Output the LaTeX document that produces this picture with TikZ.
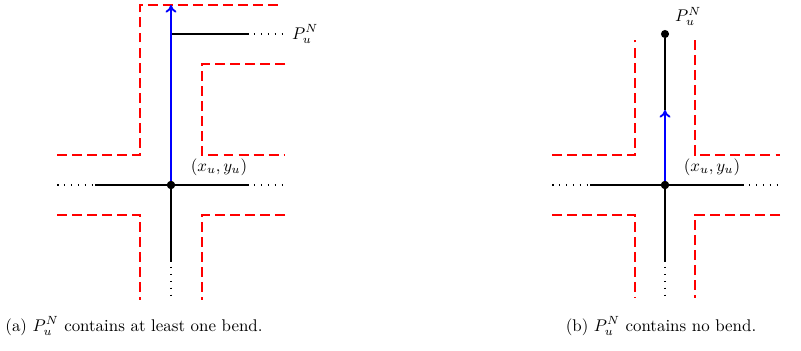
\documentclass[tikz,border=0pt]{standalone}
\usepackage{amsmath}
\usetikzlibrary{positioning, arrows.meta}

\begin{document}
\begin{tikzpicture}[
    x=0.0208cm, y=-0.0208cm,
    wall/.style={draw=red, line width=1.1pt, dash pattern=on 5.9pt off 3pt},
    edge/.style={draw=black, line width=1.1pt},
    dots/.style={draw=black, line width=1.1pt, dash pattern=on 0.9pt off 3.2pt},
    walk/.style={draw=blue, line width=1.1pt, -{To[length=4.5pt, width=6.5pt]}},
    vtx/.style={circle, fill=black, inner sep=0pt, minimum size=4.8pt},
    label/.style={inner sep=1pt},
    caption/.style={inner sep=0pt}
]
    \useasboundingbox (0,0) rectangle (801,350);

    % (a) Path with a bend
    \node[vtx] (ua) at (171,185) {};
    \coordinate (atop) at (171,5);
    \coordinate (abend) at (171,34);
    \coordinate (aeast) at (247,34);
    \coordinate (aeastd) at (285,34);
    \coordinate (al) at (95,185);
    \coordinate (ald) at (57,185);
    \coordinate (ar) at (247,185);
    \coordinate (ard) at (285,185);
    \coordinate (ab) at (171,260);
    \coordinate (abd) at (171,298);
    \node[label, right=3pt of aeastd] (pa) {$P_u^N$};
    \node[label] (xya) at (219,167) {$(x_u,y_u)$};

    % corridor walls
    \draw[wall] (57,155) -- (140,155) -- (140,5) -- (282,5);
    \draw[wall] (285,64) -- (202,64) -- (202,155) -- (285,155);
    \draw[wall] (57,215) -- (140,215) -- (140,300);
    \draw[wall] (285,215) -- (202,215) -- (202,300);

    % grid lines
    \draw[edge] (al) -- (ua) -- (ar);
    \draw[edge] (ua) -- (ab);
    \draw[edge] (abend) -- (aeast);
    \draw[dots] (ald) -- (al);
    \draw[dots] (ar) -- (ard);
    \draw[dots] (ab) -- (abd);
    \draw[dots] (aeast) -- (aeastd);
    \draw[walk] (ua) -- (atop);
    \node[vtx] at (ua) {};

    % (b) Straight path
    \node[vtx] (ub) at (665,185) {};
    \node[vtx] (tb) at (665,34) {};
    \coordinate (bmid) at (665,110);
    \coordinate (bl) at (590,185);
    \coordinate (bld) at (552,185);
    \coordinate (br) at (742,185);
    \coordinate (brd) at (780,185);
    \coordinate (bb) at (665,260);
    \coordinate (bbd) at (665,298);
    \node[label, above right=2pt and 3pt of tb] (pb) {$P_u^N$};
    \node[label] (xyb) at (712,167) {$(x_u,y_u)$};

    % corridor walls
    \draw[wall] (552,155) -- (635,155) -- (635,40);
    \draw[wall] (695,40) -- (695,155) -- (780,155);
    \draw[wall] (552,215) -- (635,215) -- (635,298);
    \draw[wall] (780,215) -- (695,215) -- (695,298);

    % grid lines
    \draw[edge] (bl) -- (ub) -- (br);
    \draw[edge] (ub) -- (bb);
    \draw[edge] (bmid) -- (tb);
    \draw[dots] (bld) -- (bl);
    \draw[dots] (br) -- (brd);
    \draw[dots] (bb) -- (bbd);
    \draw[walk] (ub) -- (bmid);
    \node[vtx] at (ub) {};

    % Captions
    \node[caption] (capa) at (134,326) {(a) $P_u^N$ contains at least one bend.};
    \node[caption] (capb) at (661,326) {(b) $P_u^N$ contains no bend.};
\end{tikzpicture}
\end{document}
